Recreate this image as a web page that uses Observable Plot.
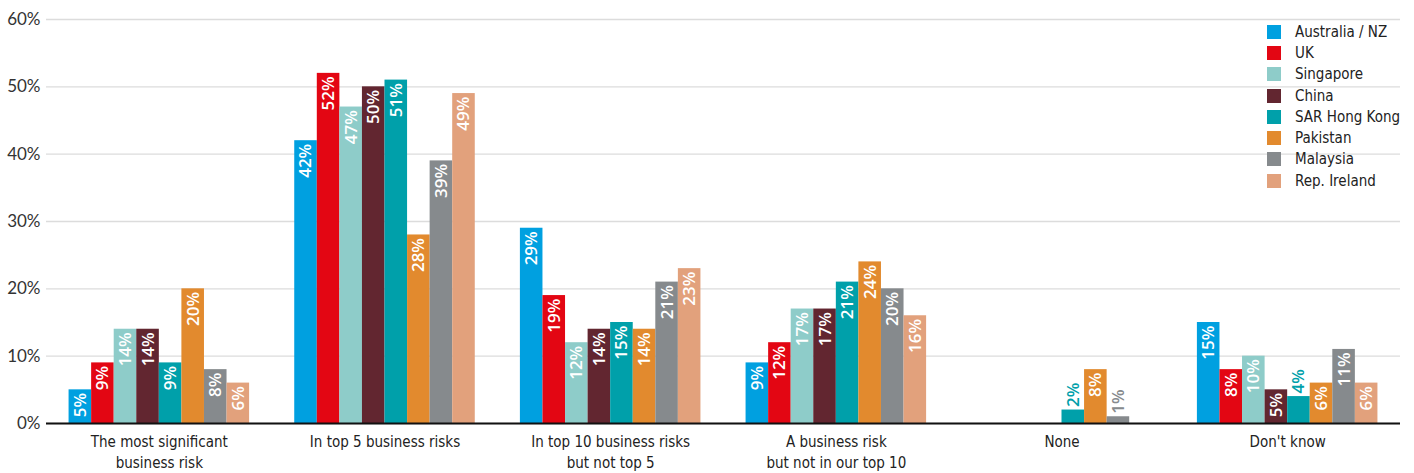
<!DOCTYPE html>
<html>
<head>
<meta charset="utf-8">
<script src="https://cdn.jsdelivr.net/npm/d3@7"></script>
<script src="https://cdn.jsdelivr.net/npm/@observablehq/plot@0.6"></script>
<style>
  html, body { margin: 0; padding: 0; background: #fff; }
  #wrap { position: relative; width: 1414px; height: 473px; }
  #legend { position: absolute; left: 1267px; top: 21px; font-family: "Liberation Sans Narrow", "DejaVu Sans Condensed", "DejaVu Sans", sans-serif; font-stretch: condensed; font-size: 15px; color: #222; }
  .row { display: flex; align-items: center; height: 21.3px; }
  .sw { width: 14px; height: 14px; margin-right: 14px; flex: none; }
</style>
</head>
<body>
<div id="wrap"><div id="legend"></div></div>
<script>
const groups = [
  "The most significant\nbusiness risk",
  "In top 5 business risks",
  "In top 10 business risks\nbut not top 5",
  "A business risk\nbut not in our top 10",
  "None",
  "Don't know"
];
const countries = ["Australia / NZ", "UK", "Singapore", "China", "SAR Hong Kong", "Pakistan", "Malaysia", "Rep. Ireland"];
const colors = ["#00A0E0", "#E30613", "#8ECCC9", "#622630", "#00A0AA", "#E28A2E", "#868A8D", "#E2A17C"];
const australia = [5, 42, 29, 9, 0, 15];
const uk        = [9, 52, 19, 12, 0, 8];
const singapore = [14, 47, 12, 17, 0, 10];
const china     = [14, 50, 14, 17, 0, 5];
const hongkong  = [9, 51, 15, 21, 2, 4];
const pakistan  = [20, 28, 14, 24, 8, 6];
const malaysia  = [8, 39, 21, 20, 1, 11];
const ireland   = [6, 49, 23, 16, 0, 6];
const yTicks = [0, 10, 20, 30, 40, 50, 60];

const series = [australia, uk, singapore, china, hongkong, pakistan, malaysia, ireland];
const slotsPerGroup = countries.length + 2;
const data = [];
groups.forEach((g, gi) => {
  countries.forEach((c, ci) => {
    const v = series[ci][gi];
    if (v > 0) data.push({group: g, country: c, value: v, slot: gi * slotsPerGroup + 1 + ci});
  });
});
const inside = data.filter(d => d.value >= 5);
const outside = data.filter(d => d.value < 5);

const plot = Plot.plot({
  width: 1414,
  height: 473,
  marginLeft: 46,
  marginRight: 14,
  marginTop: 19,
  marginBottom: 50,
  style: {fontFamily: "Lato, 'Open Sans', sans-serif", background: "#fff"},
  x: {domain: [0, groups.length * slotsPerGroup], axis: null},
  y: {domain: [0, 60], axis: null},
  color: {domain: countries, range: colors},
  marks: [
    Plot.gridY(yTicks, {stroke: "#dcdcdc", strokeOpacity: 1, strokeWidth: 1.3}),
    Plot.axisY(yTicks, {tickSize: 0, tickPadding: 6, fontSize: 17, fill: "#333", tickFormat: d => d + "%", label: null}),
    Plot.rectY(data, {x1: "slot", x2: d => d.slot + 1, y1: 0, y2: "value", fill: "country"}),
    Plot.text(inside, {x: d => d.slot + 0.5, y: "value", text: d => d.value + "%", rotate: -90, textAnchor: "end", dy: 3, fill: "white", fontSize: 17, fontWeight: 600, fontFamily: "'Open Sans', sans-serif"}),
    Plot.text(outside, {x: d => d.slot + 0.5, y: "value", text: d => d.value + "%", rotate: -90, textAnchor: "start", dy: -3, fill: "country", fontSize: 17, fontWeight: 600, fontFamily: "'Open Sans', sans-serif"}),
    Plot.ruleY([0], {stroke: "#111", strokeWidth: 2, x1: 0, x2: groups.length * slotsPerGroup}),
    Plot.text(groups, {x: (d, i) => i * slotsPerGroup + slotsPerGroup / 2, y: 0, text: d => d, lineAnchor: "top", dy: 9, lineHeight: 1.38, fontSize: 15, fill: "#222", fontFamily: "'Liberation Sans Narrow', 'DejaVu Sans Condensed', 'DejaVu Sans', sans-serif", fontStretch: "condensed"})
  ]
});
const wrap = document.getElementById("wrap");
wrap.insertBefore(plot, wrap.firstChild);

const legend = document.getElementById("legend");
countries.forEach((c, i) => {
  const row = document.createElement("div");
  row.className = "row";
  const sw = document.createElement("span");
  sw.className = "sw";
  sw.style.background = colors[i];
  const t = document.createElement("span");
  t.textContent = c;
  row.appendChild(sw);
  row.appendChild(t);
  legend.appendChild(row);
});
</script>
</body>
</html>
